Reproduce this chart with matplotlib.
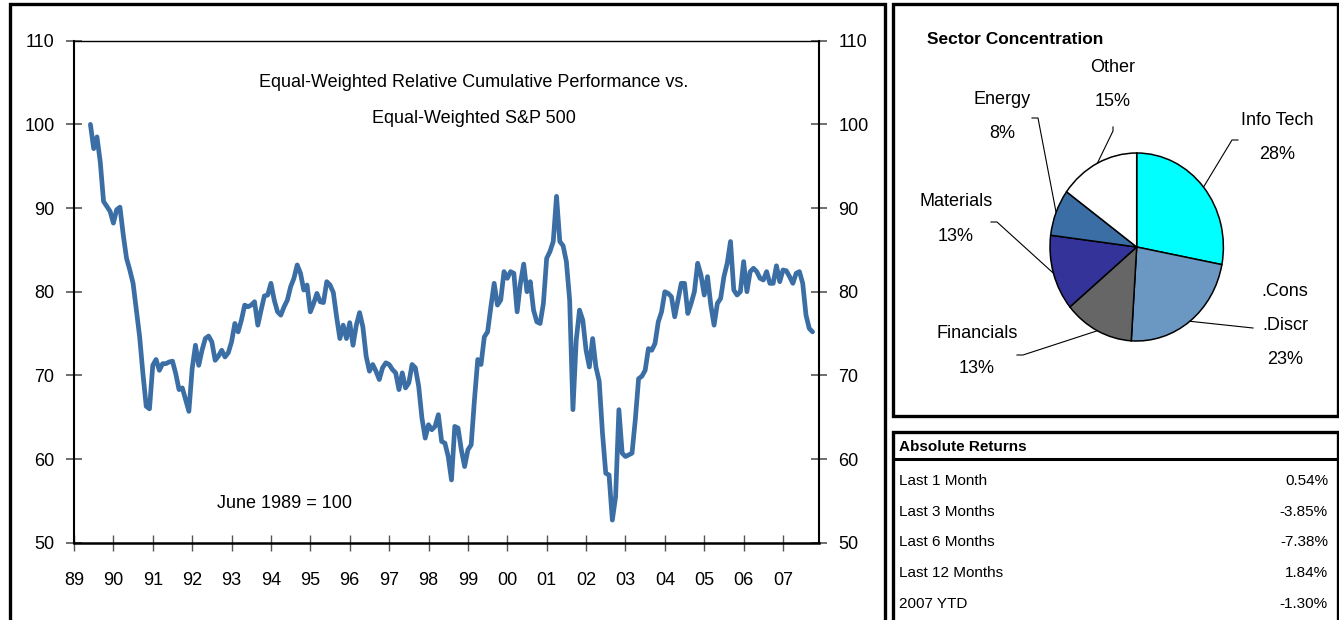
import numpy as np
import pandas as pd
import matplotlib
matplotlib.use("Agg")
import matplotlib.pyplot as plt
import matplotlib.font_manager as fm
from matplotlib.patches import Rectangle
from matplotlib.lines import Line2D

# ---------------------------------------------------------------- data
# Monthly relative cumulative performance, June 1989 = 100
rel_perf = [
    100.0, 97.1, 98.5, 95.5, 90.8, 90.2, 89.6,                      # 1989 Jun-Dec
    88.2, 89.8, 90.1, 86.8, 84.0, 82.6, 81.0, 77.8, 74.6, 70.2, 66.3, 66.0,  # 1990
    71.2, 71.9, 70.6, 71.4, 71.4, 71.6, 71.7, 70.2, 68.3, 68.5, 67.1, 65.7,  # 1991
    70.8, 73.6, 71.2, 73.0, 74.4, 74.7, 74.0, 71.8, 72.3, 73.0, 72.2, 72.7,  # 1992
    74.0, 76.2, 75.2, 76.6, 78.4, 78.2, 78.4, 78.8, 76.0, 77.8, 79.5, 79.6,  # 1993
    81.0, 79.0, 77.6, 77.2, 78.2, 79.0, 80.6, 81.6, 83.2, 82.2, 80.2, 80.8,  # 1994
    77.6, 78.6, 79.8, 78.8, 78.7, 81.2, 80.8, 79.9, 77.0, 74.4, 76.0, 74.4,  # 1995
    76.3, 73.6, 76.0, 77.5, 75.8, 72.3, 70.5, 71.3, 70.5, 69.5, 70.9, 71.5,  # 1996
    71.3, 70.7, 70.3, 68.3, 70.3, 68.5, 69.1, 71.3, 70.9, 68.7, 64.9, 62.5,  # 1997
    64.1, 63.5, 63.9, 65.3, 62.1, 61.9, 60.3, 57.5, 63.9, 63.7, 61.1, 59.1,  # 1998
    61.1, 61.7, 67.1, 71.9, 71.3, 74.6, 75.2, 78.2, 81.0, 78.4, 79.0, 82.4,  # 1999
    81.6, 82.4, 82.2, 77.6, 81.0, 83.3, 80.0, 81.2, 77.8, 76.4, 76.2, 78.6,  # 2000
    84.0, 84.8, 86.0, 91.4, 86.0, 85.5, 83.6, 79.0, 65.9, 74.2, 77.8, 76.6,  # 2001
    73.0, 71.0, 74.4, 71.0, 69.3, 63.1, 58.3, 58.1, 52.7, 55.5, 65.9, 60.7,  # 2002
    60.3, 60.5, 60.7, 64.7, 69.6, 69.9, 70.6, 73.2, 73.0, 73.8, 76.4, 77.6,  # 2003
    80.0, 79.8, 79.4, 77.0, 79.0, 81.0, 81.0, 77.4, 78.6, 80.0, 83.4, 82.0,  # 2004
    79.6, 81.8, 78.4, 76.0, 78.6, 79.2, 81.8, 83.4, 86.0, 80.2, 79.6, 80.0,  # 2005
    83.6, 80.0, 82.4, 82.8, 82.4, 81.6, 81.4, 82.4, 81.0, 81.0, 83.1, 81.2,  # 2006
    82.6, 82.5, 81.8, 81.0, 82.2, 82.4, 81.0, 77.2, 75.6, 75.2,              # 2007 Jan-Oct
]
year_ticks = list(range(1989, 2008))
year_labels = [f"{y % 100:02d}" for y in year_ticks]
y_ticks = [50, 60, 70, 80, 90, 100, 110]

sectors = ["Info Tech", ".Cons\n.Discr", "Financials", "Materials", "Energy", "Other"]
sector_weights = [28, 23, 13, 13, 8, 15]
sector_colors = ["#00FFFF", "#6A98C2", "#666666", "#333399", "#3A6EA5", "#FFFFFF"]

return_periods = ["Last 1 Month", "Last 3 Months", "Last 6 Months",
                  "Last 12 Months", "2007 YTD"]
return_values = [0.54, -3.85, -7.38, 1.84, -1.30]

# ---------------------------------------------------------------- fonts
names = {f.name for f in fm.fontManager.ttflist}
narrow = next((n for n in ["Liberation Sans Narrow", "Arial Narrow"] if n in names), None)
if narrow:
    CHART_FONT = [narrow, "DejaVu Sans"]
    FS = 14.0
else:
    CHART_FONT = ["Liberation Sans", "DejaVu Sans"]
    FS = 13.0
PLAIN_FONT = ["Liberation Sans", "DejaVu Sans"]
TABLE_FS = 11.0

# ---------------------------------------------------------------- figure
W, H = 1339, 620
fig = plt.figure(figsize=(W / 100, H / 100), dpi=100)
fig.patch.set_facecolor("white")


def fx(x):
    return x / W


def fy(y):
    return 1 - y / H


def frame(x0, y0, x1, y1, lw=2.4):
    fig.add_artist(Rectangle((fx(x0), fy(y1)), fx(x1) - fx(x0), fy(y0) - fy(y1),
                             fill=False, ec="black", lw=lw,
                             transform=fig.transFigure, clip_on=False))


# panel frames
frame(10, 4, 885, 660)
frame(893, 4, 1338, 416)
frame(893, 432, 1338, 660)
fig.add_artist(Line2D([fx(893), fx(1338)], [fy(459), fy(459)], color="black", lw=2.2,
                      transform=fig.transFigure))

# ---------------------------------------------------------------- line chart
ax_left, ax_right, ax_top, ax_bot = 74, 819, 40.7, 542.7
ax = fig.add_axes([fx(ax_left), fy(ax_bot), fx(ax_right) - fx(ax_left), fy(ax_top) - fy(ax_bot)])

dates = pd.date_range("1989-06-01", periods=len(rel_perf), freq="MS")
xs = dates.year + (dates.month - 1) / 12.0
ax.plot(xs, rel_perf, color="#3A6EA5", lw=3.4, solid_joinstyle="round",
        solid_capstyle="round", zorder=3)

ax.set_xlim(1989, 1989 + (ax_right - ax_left) / 39.39)
ax.set_ylim(50, 110)
ax.set_xticks(year_ticks)
ax.set_xticklabels(year_labels)
ax.set_yticks(y_ticks)
ax.tick_params(axis="y", left=True, right=True, labelleft=True, labelright=True,
               direction="inout", length=11, width=1.2, color="#555555", pad=8.5,
               labelsize=FS)
ax.tick_params(axis="x", bottom=True, direction="inout", length=11, width=1.0,
               color="#555555", pad=15.5, labelsize=FS)
for t in ax.xaxis.get_major_ticks():
    t.label1.set_fontfamily(CHART_FONT)
for t in ax.yaxis.get_major_ticks():
    t.label1.set_fontfamily(CHART_FONT)
    t.label2.set_fontfamily(CHART_FONT)

ax.spines["top"].set_linewidth(1.0)
ax.spines["left"].set_linewidth(1.5)
ax.spines["right"].set_linewidth(1.5)
ax.spines["bottom"].set_linewidth(1.8)
for s in ax.spines.values():
    s.set_color("black")

ax.text(0.537, 0.916, "Equal-Weighted Relative Cumulative Performance vs.",
        transform=ax.transAxes, ha="center", va="center", fontsize=FS,
        fontfamily=CHART_FONT)
ax.text(0.537, 0.846, "Equal-Weighted S&P 500", transform=ax.transAxes,
        ha="center", va="center", fontsize=FS, fontfamily=CHART_FONT)
ax.text(0.283, 0.079, "June 1989 = 100", transform=ax.transAxes,
        ha="center", va="center", fontsize=FS, fontfamily=CHART_FONT)

# ---------------------------------------------------------------- sector pie
cx, cy, rx, ry = 1136.7, 247.0, 86.7, 94.0
axp = fig.add_axes([fx(cx - rx), fy(cy + ry), fx(2 * rx), fy(0) - fy(2 * ry)])
wedges, _ = axp.pie(sector_weights, colors=sector_colors, startangle=90,
                    counterclock=False,
                    wedgeprops=dict(edgecolor="black", linewidth=1.1))
axp.set_aspect("auto")
axp.set_xlim(-1, 1)
axp.set_ylim(-1, 1)
axp.axis("off")


def to_pie(px, py):
    return (px - cx) / rx, (cy - py) / ry


# leader elbows and label anchors (pixel layout)
leader_paths = [
    [(1232, 140), (1238, 140)],
    [(1253, 328)],
    [(1023, 355), (1017, 355)],
    [(997, 222), (991, 222)],
    [(1038, 118), (1032, 118)],
    [(1113, 131), (1113, 127)],
]
label_anchor = [(1277, 120), (1285, 291), (977, 334), (956, 202), (1002, 99), (1113, 67)]
LINE_STEP = 34.5

for w, name, val, path, (lx, ly) in zip(wedges, sectors, sector_weights,
                                         leader_paths, label_anchor):
    mid = np.deg2rad((w.theta1 + w.theta2) / 2)
    pts = [(np.cos(mid), np.sin(mid))] + [to_pie(px, py) for px, py in path]
    axp.plot([p[0] for p in pts], [p[1] for p in pts], color="black", lw=0.8,
             clip_on=False, zorder=1)
    lines = name.split("\n") + [f"{val}%"]
    for i, line in enumerate(lines):
        fig.text(fx(lx), fy(ly + i * LINE_STEP), line, ha="center", va="center",
                 fontsize=FS, fontfamily=CHART_FONT)

fig.text(fx(927), fy(39), "Sector Concentration", ha="left", va="center",
         fontsize=12.5, fontweight="bold", fontfamily=PLAIN_FONT)

# ---------------------------------------------------------------- returns table
fig.text(fx(899), fy(447), "Absolute Returns", ha="left", va="center",
         fontsize=TABLE_FS, fontweight="bold", fontfamily=PLAIN_FONT)
for i, (period, v) in enumerate(zip(return_periods, return_values)):
    yy = 481 + i * 30.7
    fig.text(fx(899), fy(yy), period, ha="left", va="center", fontsize=TABLE_FS,
             fontfamily=PLAIN_FONT)
    fig.text(fx(1328), fy(yy), f"{v:.2f}%", ha="right", va="center",
             fontsize=TABLE_FS, fontfamily=PLAIN_FONT)

fig.savefig("out.png", dpi=100, facecolor="white")
